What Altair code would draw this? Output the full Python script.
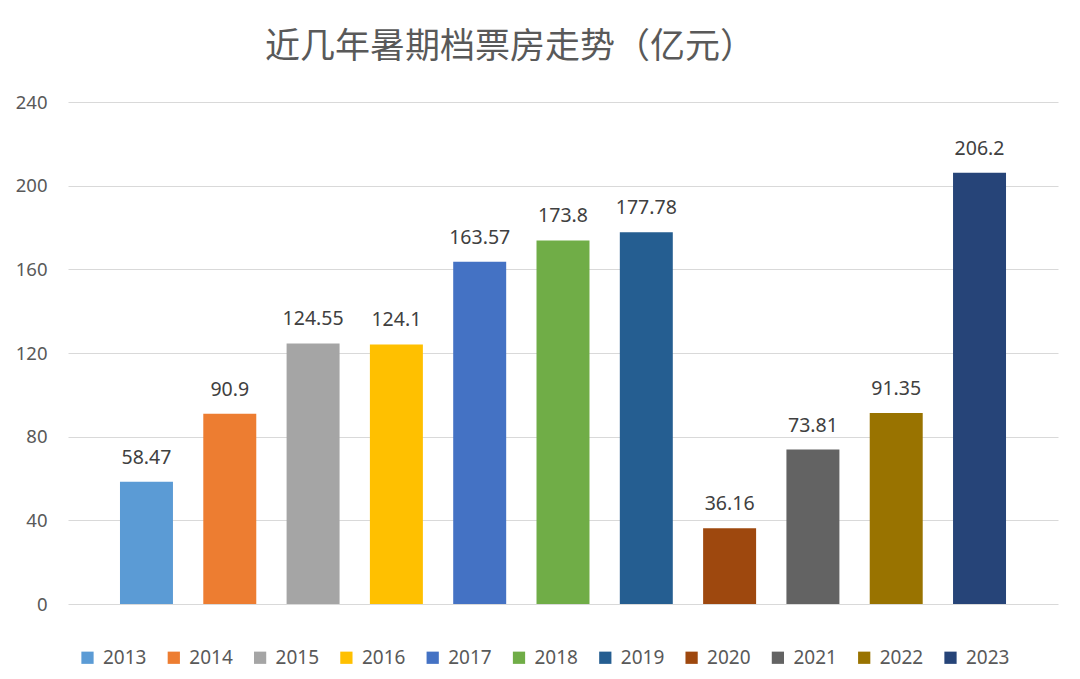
import altair as alt
import pandas as pd

years = ["2013", "2014", "2015", "2016", "2017", "2018", "2019", "2020", "2021", "2022", "2023"]
values = [58.47, 90.9, 124.55, 124.1, 163.57, 173.8, 177.78, 36.16, 73.81, 91.35, 206.2]
labels = ["58.47", "90.9", "124.55", "124.1", "163.57", "173.8", "177.78", "36.16", "73.81", "91.35", "206.2"]
colors = ["#5B9BD5", "#ED7D31", "#A5A5A5", "#FFC000", "#4472C4", "#70AD47",
          "#255E91", "#9E480E", "#636363", "#997300", "#264478"]
y_ticks = [0, 40, 80, 120, 160, 200, 240]

df = pd.DataFrame({"year": years, "value": values, "label": labels})

CJK = "Noto Sans CJK SC"
NUM = "Noto Sans"
TXT = "#595959"

x = alt.X("year:N", sort=years, axis=None,
          scale=alt.Scale(paddingInner=0.364, paddingOuter=0.624))
y = alt.Y("value:Q", scale=alt.Scale(domain=[0, 240], nice=False),
          axis=alt.Axis(values=y_ticks, title=None, domain=False, ticks=False,
                        labelPadding=21, labelFontSize=18.5, labelColor=TXT,
                        labelFont=NUM, gridColor="#D9D9D9", gridWidth=1.2))

bars = alt.Chart(df).mark_bar().encode(
    x=x, y=y,
    color=alt.Color("year:N", sort=years,
                    scale=alt.Scale(domain=years, range=colors),
                    legend=alt.Legend(orient="none", direction="horizontal",
                                      legendX=10, legendY=546, columns=11,
                                      title=None, symbolType="square",
                                      symbolSize=150, symbolStrokeWidth=0,
                                      labelFontSize=19, labelColor=TXT,
                                      labelFont=NUM, labelOffset=6,
                                      columnPadding=17.3, padding=0)),
)

text = alt.Chart(df).mark_text(baseline="alphabetic", dy=-18, fontSize=19.5,
                               color="#404040", font=NUM).encode(
    x=x, y=alt.Y("value:Q"), text="label:N")

chart = (bars + text).properties(
    width=990, height=502,
    autosize=alt.AutoSizeParams(type="none"),
    padding={"left": 60, "top": 94, "right": 14, "bottom": 67},
    title=alt.TitleParams("近几年暑期档票房走势（亿元）", fontSize=35, color=TXT,
                          font=CJK, fontWeight="normal", anchor="middle",
                          dx=-53, offset=28),
).configure_view(stroke=None)

chart.save("out.html", embed_options={"renderer": "svg", "actions": False})
